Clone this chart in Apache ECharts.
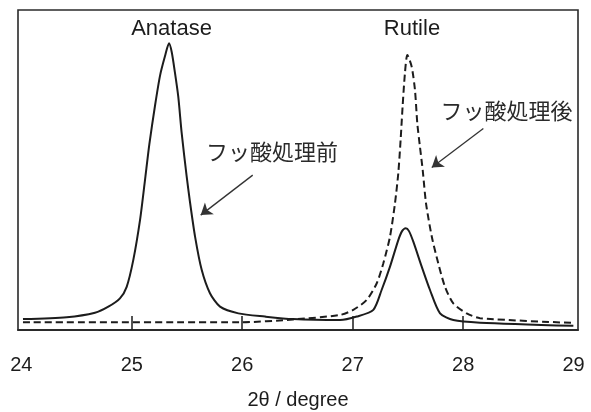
<!DOCTYPE html>
<html>
<head>
<meta charset="utf-8">
<script src="https://cdn.jsdelivr.net/npm/echarts@6/dist/echarts.min.js"></script>
<style>
html,body{margin:0;padding:0;background:#fff;}
#c{width:591px;height:412px;}
</style>
</head>
<body>
<div id="c"></div>
<script>
// 2θ positions (degree) and intensities (arbitrary units, 0-100)
const beforeX = [24.015,24.411,24.667,24.788,24.893,24.954,25.014,25.075,25.120,25.159,25.210,25.256,25.301,25.337,25.362,25.391,25.421,25.452,25.497,25.527,25.573,25.633,25.708,25.799,25.965,26.206,26.460,26.885,27.037,27.187,27.262,27.338,27.413,27.447,27.480,27.510,27.549,27.625,27.700,27.791,27.911,28.153,28.998];
const beforeY = [3.4,4.0,5.4,7.3,9.9,13.5,21.9,34.4,46.9,58.0,70.0,79.5,85.6,89.6,86.8,80.4,72.9,61.5,48.0,40.0,29.2,18.8,11.5,7.3,5.2,4.2,3.4,3.1,4.2,6.3,12.5,19.8,28.1,30.9,31.8,30.9,27.6,19.8,12.5,5.2,3.1,2.3,1.3];
const afterX = [24.015,25.980,26.460,26.885,27.006,27.127,27.218,27.277,27.338,27.383,27.413,27.434,27.452,27.473,27.495,27.534,27.564,27.585,27.609,27.634,27.664,27.716,27.775,27.836,27.911,28.032,28.153,28.998];
const afterY = [2.4,2.4,3.3,4.7,6.3,9.4,14.6,20.8,29.2,39.6,49.0,59.4,69.8,80.2,85.9,82.3,75.0,64.6,57.3,50.0,39.6,29.2,20.8,13.5,8.3,5.2,3.7,2.2];
const tickLabels = [24,25,26,27,28,29];
const tickMarks = [25,26,27,28];
const xTitle = '2θ / degree';
const peakNames = ['Anatase','Rutile'];
const peakPos = [[25.36,94.2],[27.537,94.1]];
const noteNames = ['フッ酸処理前','フッ酸処理後'];
const notePos = [[26.27,55.6],[28.393,68.4]];
const arrows = [[[26.095,48.4],[25.624,35.9]],[[28.183,63.0],[27.716,50.8]]];

const ink = '#1c1c1c';
const zip = (xs, ys) => xs.map((x, i) => [x, ys[i]]);

const chart = echarts.init(document.getElementById('c'), null, {renderer:'canvas'});
chart.setOption({
  animation:false,
  backgroundColor:'#fff',
  grid:{left:18,right:13,top:10,bottom:82,show:true,borderColor:'#2a2a2a',borderWidth:1.6,outerBoundsMode:'none',containLabel:false},
  xAxis:{
    type:'value',min:23.97,max:29.04,
    name:xTitle,nameLocation:'middle',nameGap:60,
    nameTextStyle:{fontFamily:'Liberation Sans',fontSize:20,color:ink},
    axisLine:{show:true,lineStyle:{color:'#2a2a2a',width:1.8}},
    axisTick:{show:true,inside:true,length:14,customValues:tickMarks,lineStyle:{color:ink,width:1.5}},
    axisLabel:{customValues:tickLabels,margin:25,fontFamily:'Liberation Sans',fontSize:20,color:ink},
    splitLine:{show:false}
  },
  yAxis:{type:'value',min:0,max:100,show:false,splitLine:{show:false}},
  series:[
    {
      type:'line',data:zip(beforeX,beforeY),showSymbol:false,smooth:0.25,
      lineStyle:{color:ink,width:2},silent:true,
      markPoint:{
        symbol:'circle',symbolSize:0,silent:true,
        data:[
          ...peakNames.map((n,i)=>({coord:peakPos[i],value:n,label:{show:true,formatter:n,position:'inside',fontFamily:'Liberation Sans',fontSize:22,color:ink}})),
          ...noteNames.map((n,i)=>({coord:notePos[i],value:n,label:{show:true,formatter:n,position:'inside',fontFamily:'Noto Sans CJK JP',fontSize:22,color:'#2a2a2a'}}))
        ]
      },
      markLine:{
        silent:true,symbol:['none','arrow'],symbolSize:11,
        label:{show:false},
        lineStyle:{color:'#333',width:1.3,type:'solid'},
        data:arrows.map(a=>[{coord:a[0]},{coord:a[1]}])
      }
    },
    {
      type:'line',data:zip(afterX,afterY),showSymbol:false,smooth:0.25,
      lineStyle:{color:ink,width:2,type:[7,4]},silent:true
    }
  ]
});
</script>
</body>
</html>
